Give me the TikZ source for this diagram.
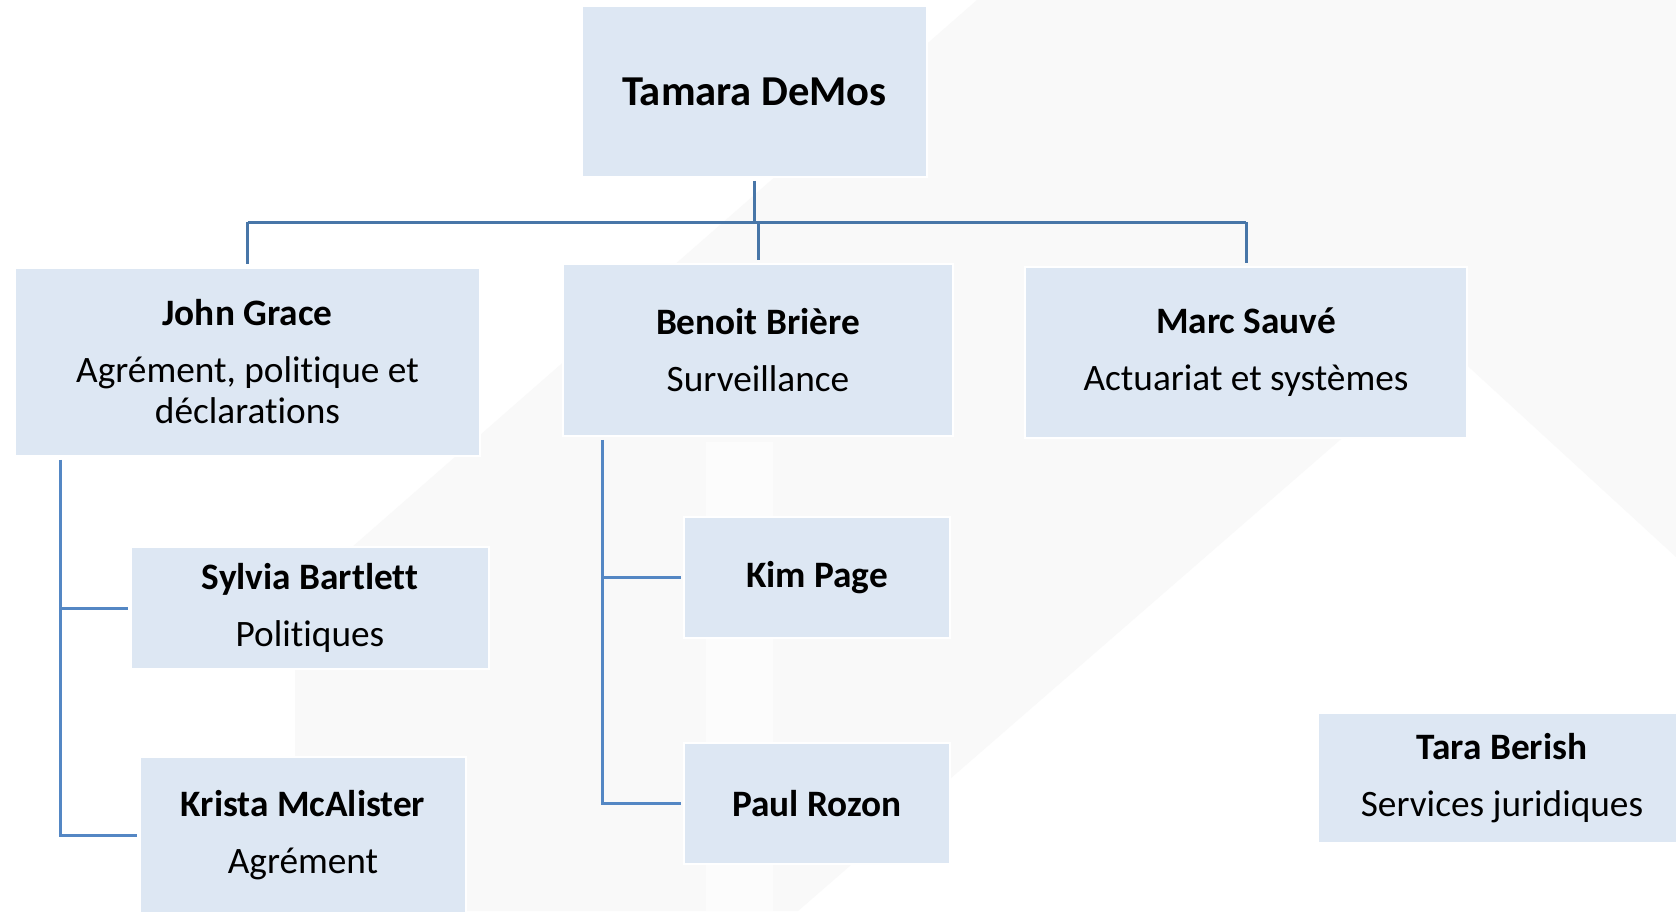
\documentclass[tikz,border=0pt]{standalone}
\usepackage{fontspec}
\setmainfont{Carlito}[Ligatures={NoCommon,NoRare,NoContextual}]
\definecolor{boxfill}{RGB}{221,231,243}
\definecolor{toplinecol}{RGB}{72,118,168}
\definecolor{sublinecol}{RGB}{84,135,196}
\definecolor{bggrey}{RGB}{249,249,249}
\definecolor{bglight}{RGB}{252,252,252}
\begin{document}
\begin{tikzpicture}[x=1pt,y=-1pt,
  box/.style={fill=boxfill, draw=white, line width=1.5pt, inner sep=0pt,
    align=center, font=\fontsize{37.3}{41}\selectfont},
  topline/.style={draw=toplinecol, line width=3pt},
  subline/.style={draw=sublinecol, line width=3pt}]
\clip (0,0) rectangle (1676,911);
\fill[white] (0,0) rectangle (1676,911);
% faint background watermark
\fill[bggrey] (977,0) -- (1676,0) -- (1676,557) -- (1447,347) -- (798,911)
  -- (295,911) -- (295,597) -- cycle;
\fill[bglight] (706,442) rectangle (773,911);

% boxes
\node[box, minimum width=345pt, minimum height=171pt] (tamara) at (754.5,91.5)
  {\fontsize{42.6}{48}\selectfont\bfseries Tamara DeMos};
\node[box, minimum width=465pt, minimum height=188pt] (john) at (247.5,362)
  {\textbf{John Grace}\\[16pt]Agrément, politique et\\déclarations};
\node[box, minimum width=390pt, minimum height=172pt] (benoit) at (758,350)
  {\textbf{Benoit Brière}\\[16pt]Surveillance};
\node[box, minimum width=442pt, minimum height=171pt] (marc) at (1246,352.5)
  {\textbf{Marc Sauvé}\\[16pt]Actuariat et systèmes};
\node[box, minimum width=358pt, minimum height=122pt] (sylvia) at (310,608)
  {\textbf{Sylvia Bartlett}\\[16pt]Politiques};
\node[box, minimum width=326pt, minimum height=156pt] (krista) at (303,835)
  {\textbf{Krista McAlister}\\[16pt]Agrément};
\node[box, minimum width=266pt, minimum height=121pt] (kim) at (817,577.5)
  {\textbf{Kim Page}};
\node[box, minimum width=266pt, minimum height=121pt] (paul) at (817,803.5)
  {\textbf{Paul Rozon}};
\node[box, minimum width=368pt, minimum height=130pt] (tara) at (1502,778)
  {\textbf{Tara Berish}\\[16pt]Services juridiques};

% connectors
\coordinate (bus) at (754,222);
\coordinate (jtrunk) at (60,0);
\coordinate (btrunk) at (602,0);
\draw[topline, shorten <=3pt] (tamara.south) -- (tamara.south |- bus) -- (benoit.north |- bus);
\draw[topline] (john.north |- bus) -- (marc.north |- bus);
\draw[topline, shorten >=3pt] (john.north |- bus) -- (john.north);
\draw[topline, shorten >=3pt] (benoit.north |- bus) -- (benoit.north);
\draw[topline, shorten >=3pt] (marc.north |- bus) -- (marc.north);

\draw[subline, shorten <=3pt, shorten >=2pt] (john.south -| jtrunk) -- (jtrunk |- krista.west) -- (krista.west);
\draw[subline, shorten >=2pt] (jtrunk |- sylvia.west) -- (sylvia.west);
\draw[subline, shorten <=3pt, shorten >=2pt] (benoit.south -| btrunk) -- (btrunk |- paul.west) -- (paul.west);
\draw[subline, shorten >=2pt] (btrunk |- kim.west) -- (kim.west);
\end{tikzpicture}
\end{document}
